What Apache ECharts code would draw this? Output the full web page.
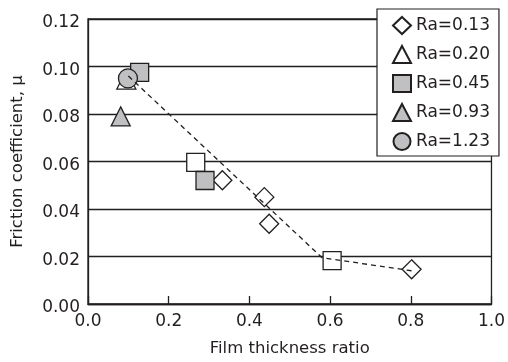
<!DOCTYPE html>
<html><head><meta charset="utf-8">
<script src="https://cdn.jsdelivr.net/npm/echarts@6/dist/echarts.min.js"></script>
<style>html,body{margin:0;padding:0;background:#fff}#c{width:508px;height:362px}</style>
</head><body><div id="c"></div>
<script>
var xTicks = [0.0, 0.2, 0.4, 0.6, 0.8, 1.0];
var yTicks = [0.00, 0.02, 0.04, 0.06, 0.08, 0.10, 0.12];
var ra013 = [[0.333, 0.0521], [0.437, 0.0450], [0.449, 0.0338], [0.802, 0.0146]];
var ra020 = [[0.095, 0.0945]];
var ra045 = [[0.128, 0.0975], [0.290, 0.0520]];
var ra093 = [[0.081, 0.0790]];
var ra123 = [[0.099, 0.0950]];
var openSquares = [[0.267, 0.0596], [0.605, 0.0183]];
var trendLine = [[0.100, 0.0960], [0.580, 0.0195], [0.810, 0.0138]];
var seriesNames = ['Ra=0.13', 'Ra=0.20', 'Ra=0.45', 'Ra=0.93', 'Ra=1.23'];

var FONT = 'DejaVu Sans';
var INK = '#231f20';
var GRAY = '#c0c0c2';
function sc(name, data, symbol, fill, size, z) {
  return {type: 'scatter', name: name, data: data, symbol: symbol, symbolSize: size, z: z,
    itemStyle: {color: fill, borderColor: INK, borderWidth: 1.3, opacity: 1}};
}
var chart = echarts.init(document.getElementById('c'), null, {renderer: 'canvas'});
chart.setOption({
  animation: false,
  backgroundColor: '#fff',
  grid: {left: 88, right: 15, top: 19, bottom: 55, show: true, borderColor: INK, borderWidth: 1.3, backgroundColor: 'transparent'},
  legend: {
    data: seriesNames, orient: 'vertical', left: 377, top: 9,
    backgroundColor: '#fff', borderColor: INK, borderWidth: 1.2,
    padding: [7, 9, 5, 15], itemGap: 10, itemWidth: 18, itemHeight: 17, itemTextGap: 0,
    textStyle: {fontFamily: FONT, fontSize: 17, color: INK, lineHeight: 17}
  },
  xAxis: {
    type: 'value', min: 0, max: 1, interval: 0.2,
    name: 'Film thickness ratio', nameLocation: 'middle', nameGap: 36,
    nameTextStyle: {fontFamily: FONT, fontSize: 16.5, color: INK},
    axisLine: {show: true, lineStyle: {color: INK, width: 1.3}},
    axisTick: {show: true, inside: true, length: 8, lineStyle: {color: INK, width: 1.3}},
    axisLabel: {fontFamily: FONT, fontSize: 17, color: INK, margin: 9,
      formatter: function (v) { return v.toFixed(1); }},
    splitLine: {show: false}
  },
  yAxis: {
    type: 'value', min: 0, max: 0.12, interval: 0.02,
    name: 'Friction coefficient, μ', nameLocation: 'middle', nameGap: 62,
    nameTextStyle: {fontFamily: FONT, fontSize: 16.5, color: INK},
    axisLine: {show: true, lineStyle: {color: INK, width: 1.3}},
    axisTick: {show: false},
    axisLabel: {fontFamily: FONT, fontSize: 17, color: INK, margin: 8, verticalAlign: 'top', lineHeight: 8,
      formatter: function (v) { return v.toFixed(2); }},
    splitLine: {show: true, lineStyle: {color: INK, width: 1.3}}
  },
  series: [
    sc('Ra=0.13', ra013, 'diamond', '#fff', 19, 2),
    sc('open', openSquares, 'rect', '#fff', 18, 2),
    sc('Ra=0.45', ra045, 'rect', GRAY, 18, 3),
    sc('Ra=0.93', ra093, 'triangle', GRAY, 19, 3),
    sc('Ra=0.20', ra020, 'triangle', '#fff', 19, 3),
    sc('Ra=1.23', ra123, 'circle', GRAY, 19, 4),
    {type: 'line', name: 'trend', data: trendLine, symbol: 'none', z: 5,
      lineStyle: {color: INK, width: 1.3, type: [5, 4]}}
  ]
});
</script></body></html>
